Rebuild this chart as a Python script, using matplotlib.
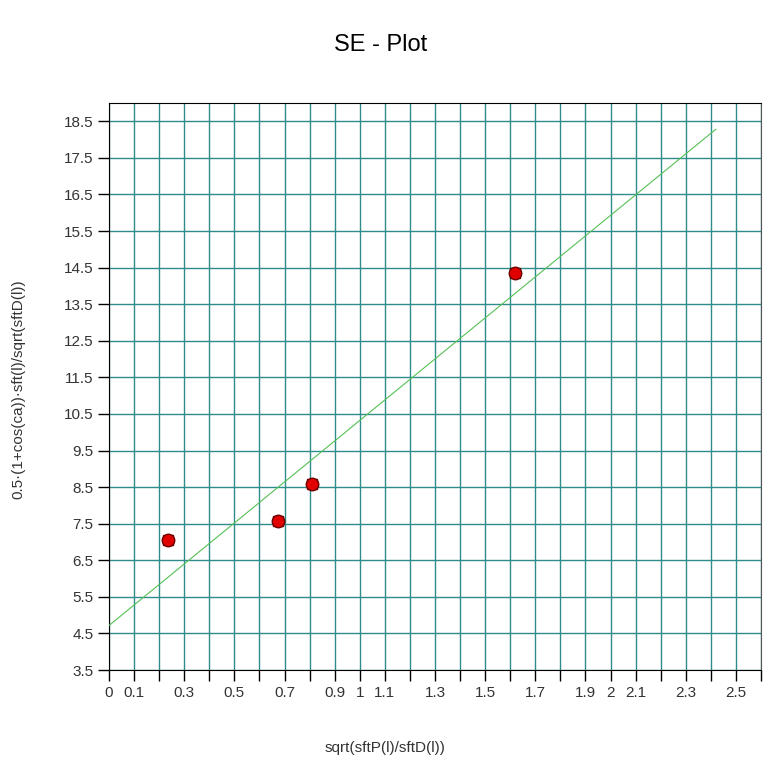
import numpy as np
import matplotlib.pyplot as plt

plt.rcParams['font.family'] = ['Liberation Sans', 'DejaVu Sans']

# measured points
x_vals = [0.235, 0.675, 0.809, 1.619]
y_vals = [7.05, 7.58, 8.59, 14.36]

# range covered by the fitted line
fit_x_start = 0.0
fit_x_end = 2.42

x_labelled = [0, 0.1, 0.3, 0.5, 0.7, 0.9, 1, 1.1, 1.3, 1.5, 1.7, 1.9, 2, 2.1, 2.3, 2.5]
y_ticks = [3.5, 4.5, 5.5, 6.5, 7.5, 8.5, 9.5, 10.5, 11.5, 12.5, 13.5, 14.5, 15.5, 16.5, 17.5, 18.5]

fig = plt.figure(figsize=(7.66, 7.72), dpi=100)
ax = fig.add_axes([0.1423, 0.1321, 0.8512, 0.7345])

ax.set_xlim(0, 2.6)
ax.set_ylim(3.5, 19.0)

# grid every 0.1 on x, every 1 on y
x_ticks = np.round(np.arange(0, 2.61, 0.1), 1)
ax.set_xticks(x_ticks)
ax.set_xticklabels([f'{t:g}' if any(abs(t - v) < 1e-9 for v in x_labelled) else '' for t in x_ticks])
ax.set_yticks(y_ticks)
ax.set_yticklabels([f'{t:g}' for t in y_ticks])
ax.grid(True, color='#2f8c8c', linewidth=1.0)
ax.set_axisbelow(True)

ax.tick_params(direction='out', length=8, width=1, colors='black', labelcolor='#333333',
               labelsize=11)
ax.tick_params(axis='y', pad=3)
for s in ax.spines.values():
    s.set_color('black')
ax.spines['right'].set_color('#555555')

# least-squares line through the points
slope, intercept = np.polyfit(x_vals, y_vals, 1)
lx = np.array([fit_x_start, fit_x_end])
ax.plot(lx, slope * lx + intercept, color='#55c055', linewidth=0.8, zorder=3)

# rounded-square markers: a square under a slightly larger circle
ax.plot(x_vals, y_vals, 's', color='#e00000', markeredgecolor='#700000',
        markersize=7, markeredgewidth=1.0, zorder=4, clip_on=False)
ax.plot(x_vals, y_vals, 'o', color='#e00000', markeredgecolor='#700000',
        markersize=9, markeredgewidth=1.0, zorder=4, clip_on=False)

fig.text(0.497, 0.942, 'SE - Plot', ha='center', va='center', fontsize=17)
fig.text(0.503, 0.031, 'sqrt(sftP(l)/sftD(l))', ha='center', va='center',
         fontsize=11, color='#333333')
fig.text(0.024, 0.496, '0.5·(1+cos(ca))·sft(l)/sqrt(sftD(l))', ha='center', va='center',
         rotation=90, fontsize=11, color='#333333')

fig.savefig('out.png', dpi=100)
